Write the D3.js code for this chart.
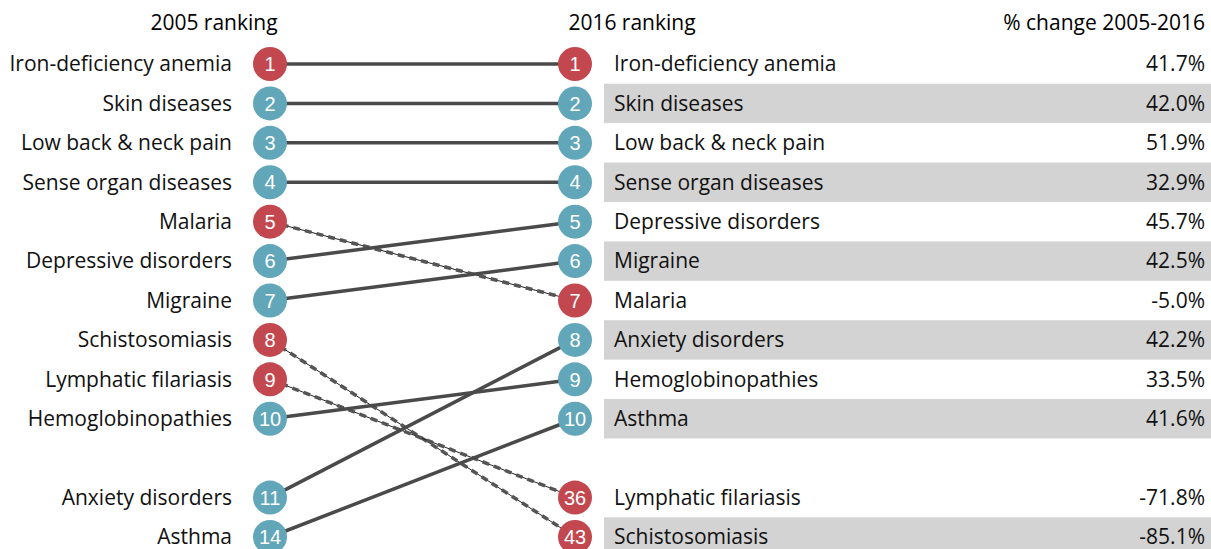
<!DOCTYPE html>
<html>
<head>
<meta charset="utf-8">
<script src="https://cdn.jsdelivr.net/npm/d3@7"></script>
<style>
  body { margin: 0; background: #fff; }
  svg text { font-family: "Open Sans", Lato, sans-serif; }
</style>
</head>
<body>
<div id="chart"></div>
<script>
// 2005 list (left), in rank order
var causes2005 = ["Iron-deficiency anemia", "Skin diseases", "Low back & neck pain", "Sense organ diseases",
    "Malaria", "Depressive disorders", "Migraine", "Schistosomiasis", "Lymphatic filariasis",
    "Hemoglobinopathies", "Anxiety disorders", "Asthma"];
var ranks2005 = [1, 2, 3, 4, 5, 6, 7, 8, 9, 10, 11, 14];

// 2016 list (right)
var causes2016 = ["Iron-deficiency anemia", "Skin diseases", "Low back & neck pain", "Sense organ diseases",
    "Depressive disorders", "Migraine", "Malaria", "Anxiety disorders", "Hemoglobinopathies",
    "Asthma", "Lymphatic filariasis", "Schistosomiasis"];
var ranks2016 = [1, 2, 3, 4, 5, 6, 7, 8, 9, 10, 36, 43];
var pctChange = ["41.7%", "42.0%", "51.9%", "32.9%", "45.7%", "42.5%", "-5.0%", "42.2%", "33.5%", "41.6%", "-71.8%", "-85.1%"];

// communicable diseases drawn red
var redCauses = ["Iron-deficiency anemia", "Malaria", "Schistosomiasis", "Lymphatic filariasis"];

var width = 1211, height = 549;
var red = "#c3474f", blue = "#62a6ba", lineCol = "#4a4a4a";
var fs = "21px";

var svg = d3.select("#chart").append("svg")
    .attr("width", width)
    .attr("height", height);

// row slot: 10 rows, a gap, then 2 more
var slot = function (i) { return i < 10 ? i : i + 1; };
var y = d3.scaleLinear().domain([0, 12]).range([64, 537]);

var xLeft = 270, xRight = 575, r = 17;

// header
svg.append("text").attr("x", 214).attr("y", 30).attr("text-anchor", "middle")
    .style("font-size", fs).text("2005 ranking");
svg.append("text").attr("x", 632).attr("y", 30).attr("text-anchor", "middle")
    .style("font-size", fs).text("2016 ranking");
svg.append("text").attr("x", 1205).attr("y", 30).attr("text-anchor", "end")
    .style("font-size", fs).text("% change 2005-2016");

// gray stripes on the right table
var rowH = y(1) - y(0);
svg.selectAll("rect.stripe")
    .data(causes2016.map(function (d, i) { return i; }).filter(function (i) { return i % 2 == 1; }))
    .enter().append("rect")
    .attr("class", "stripe")
    .attr("x", 604)
    .attr("y", function (i) { return y(slot(i)) - rowH / 2; })
    .attr("width", width - 604)
    .attr("height", rowH)
    .attr("fill", "#d3d3d3");

// connecting lines
var links = causes2005.map(function (c, i) {
    return { cause: c, from: slot(i), to: slot(causes2016.indexOf(c)) };
});

links.forEach(function (d) {
    var isRed = redCauses.indexOf(d.cause) >= 0;
    var moved = d.from != d.to;
    if (isRed && moved) {
        // dashed look: thin core + thick dashes
        svg.append("line")
            .attr("x1", xLeft).attr("y1", y(d.from))
            .attr("x2", xRight).attr("y2", y(d.to))
            .attr("stroke", "#222").attr("stroke-width", 1);
        svg.append("line")
            .attr("x1", xLeft).attr("y1", y(d.from))
            .attr("x2", xRight).attr("y2", y(d.to))
            .attr("stroke", "#555").attr("stroke-width", 3.5)
            .attr("stroke-dasharray", "7,5");
    } else {
        svg.append("line")
            .attr("x1", xLeft).attr("y1", y(d.from))
            .attr("x2", xRight).attr("y2", y(d.to))
            .attr("stroke", lineCol).attr("stroke-width", 3.5);
    }
});

function colorOf(c) { return redCauses.indexOf(c) >= 0 ? red : blue; }

// left side
var left = svg.selectAll("g.left").data(causes2005).enter().append("g")
    .attr("transform", function (d, i) { return "translate(0," + y(slot(i)) + ")"; });
left.append("text").attr("x", 232).attr("dy", "0.35em").attr("text-anchor", "end")
    .style("font-size", fs).attr("fill", "#111").text(function (d) { return d; });
left.append("circle").attr("cx", xLeft).attr("r", r).attr("fill", colorOf);
left.append("text").attr("x", xLeft).attr("dy", "0.36em").attr("text-anchor", "middle")
    .style("font-family", "'Liberation Sans', Arial, sans-serif").style("font-size", "20px")
    .attr("fill", "#fff").text(function (d, i) { return ranks2005[i]; });

// right side
var right = svg.selectAll("g.right").data(causes2016).enter().append("g")
    .attr("transform", function (d, i) { return "translate(0," + y(slot(i)) + ")"; });
right.append("circle").attr("cx", xRight).attr("r", r).attr("fill", colorOf);
right.append("text").attr("x", xRight).attr("dy", "0.36em").attr("text-anchor", "middle")
    .style("font-family", "'Liberation Sans', Arial, sans-serif").style("font-size", "20px")
    .attr("fill", "#fff").text(function (d, i) { return ranks2016[i]; });
right.append("text").attr("x", 614).attr("dy", "0.35em")
    .style("font-size", fs).attr("fill", "#111").text(function (d) { return d; });
right.append("text").attr("x", 1205).attr("dy", "0.35em").attr("text-anchor", "end")
    .style("font-size", fs).attr("fill", "#111").text(function (d, i) { return pctChange[i]; });
</script>
</body>
</html>
